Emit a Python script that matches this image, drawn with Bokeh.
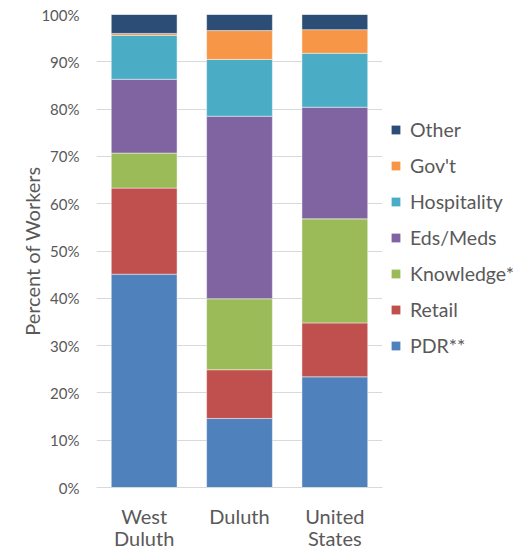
from bokeh.plotting import figure
from bokeh.layouts import row
from bokeh.models import Legend, LegendItem, NumeralTickFormatter, FixedTicker
from bokeh.embed import file_html
from bokeh.resources import INLINE

places = ["West\nDuluth", "Duluth", "United\nStates"]
series = ["PDR**", "Retail", "Knowledge*", "Eds/Meds", "Hospitality", "Gov't", "Other"]
pdr = [0.451, 0.146, 0.234]
retail = [0.182, 0.103, 0.114]
knowledge = [0.074, 0.150, 0.220]
edsmeds = [0.156, 0.386, 0.236]
hospitality = [0.093, 0.120, 0.114]
govt = [0.004, 0.061, 0.050]
other = [0.040, 0.034, 0.032]
colors = ["#4F81BD", "#C0504D", "#9BBB59", "#8064A2", "#4BACC6", "#F79646", "#2C4D75"]
yticks = [i / 10 for i in range(11)]

data = {"places": places}
keys = ["pdr", "retail", "knowledge", "edsmeds", "hospitality", "govt", "other"]
for k, v in zip(keys, [pdr, retail, knowledge, edsmeds, hospitality, govt, other]):
    data[k] = v

FONT = "Lato"
TXT = "#595959"

p = figure(x_range=places, y_range=(0, 1), width=390, height=553,
           output_backend="svg", toolbar_location=None,
           min_border_left=96, min_border_right=8, min_border_top=14, min_border_bottom=65)
p.outline_line_color = None

p.vbar_stack(keys, x="places", width=0.69, color=colors, source=data,
             line_color="white", line_alpha=0.45, line_width=1)

p.yaxis.ticker = FixedTicker(ticks=yticks)
p.yaxis.formatter = NumeralTickFormatter(format="0%")
p.yaxis.axis_line_color = None
p.yaxis.major_tick_line_color = None
p.yaxis.minor_tick_line_color = None
p.yaxis.major_label_text_font = FONT
p.yaxis.major_label_text_font_size = "15px"
p.yaxis.major_label_text_color = TXT
p.yaxis.major_label_standoff = 11
p.yaxis.axis_label = "Percent of Workers"
p.yaxis.axis_label_text_font = FONT
p.yaxis.axis_label_text_font_size = "20px"
p.yaxis.axis_label_text_font_style = "normal"
p.yaxis.axis_label_text_color = TXT
p.yaxis.axis_label_standoff = -6

p.xaxis.axis_line_color = "#D9D9D9"
p.xaxis.major_tick_line_color = None
p.xaxis.minor_tick_line_color = None
p.xaxis.major_label_text_font = FONT
p.xaxis.major_label_text_font_size = "20px"
p.xaxis.major_label_text_line_height = 0.95
p.xaxis.major_label_text_color = TXT
p.xaxis.major_label_standoff = 10

p.xgrid.grid_line_color = None
p.ygrid.grid_line_color = "#D9D9D9"
p.ygrid.grid_line_width = 1

# legend panel: same stacked renderers, hidden, only used for the legend glyphs
q = figure(width=130, height=553, output_backend="svg", toolbar_location=None,
           min_border=0, x_range=places, y_range=(10, 11))
q.axis.visible = False
q.grid.visible = False
q.outline_line_color = None
rends = q.vbar_stack(keys, x="places", width=0.69, fill_color=colors, line_alpha=0,
                     source=data)
for rr in rends:
    rr.visible = False
items = [LegendItem(label=s, renderers=[rr]) for s, rr in zip(series, rends)][::-1]
legend = Legend(items=items, location=(0, 130), orientation="vertical",
                padding=0, margin=0, spacing=13, glyph_width=11, glyph_height=11,
                label_standoff=9, label_height=23,
                label_text_font=FONT, label_text_font_size="19.5px", label_text_color=TXT,
                border_line_color=None, background_fill_alpha=0)
q.add_layout(legend, "center")

layout = row(p, q)
open("out.html", "w").write(file_html(layout, INLINE))
